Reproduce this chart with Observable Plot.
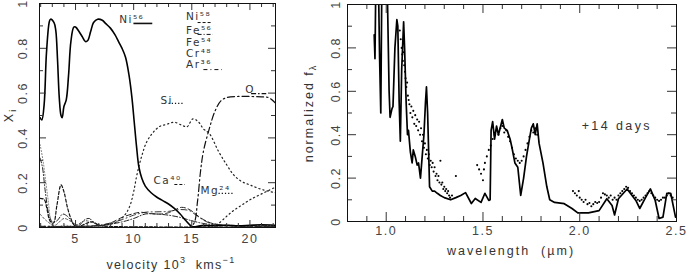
<!DOCTYPE html>
<html><head><meta charset="utf-8">
<script src="https://cdn.jsdelivr.net/npm/d3@7"></script>
<script src="https://cdn.jsdelivr.net/npm/@observablehq/plot@0.6"></script>
<style>
body{margin:0;background:#fff;}
#wrap{position:relative;width:687px;height:273px;overflow:hidden;font-family:"Liberation Sans",Arial,sans-serif;color:#333;}
#wrap svg{position:absolute;top:0;}
.lab{position:absolute;font-size:12.5px;white-space:nowrap;letter-spacing:2px;line-height:1;}
.lab sup{font-size:9px;vertical-align:6px;line-height:0;}
.lab sub{font-size:9px;vertical-align:-3px;line-height:0;}
.rot{transform-origin:center center;transform:translate(-50%,-50%) rotate(-90deg);}
</style></head><body><div id="wrap"></div>
<script>
// ---------- Left panel: abundances X_i vs velocity (10^3 km/s) ----------
const ni56V = [1.95,2.1,2.3,2.5,2.75,2.85,3.15,3.3,3.45,3.6,3.75,3.85,4.0,4.2,4.4,4.6,4.85,5.0,5.3,5.6,5.85,6.05,6.3,6.55,6.9,7.3,7.6,8.0,8.4,8.7,9.0,9.3,9.6,9.85,10.05,10.25,10.45,10.7,11.0,11.5,12.0,12.5,13.0,13.5,14.0,14.5,15.0,15.5,16,17,18,19,20,21,22.2];
const ni56X = [0.49,0.48,0.55,0.78,0.92,0.93,0.915,0.88,0.75,0.58,0.50,0.49,0.54,0.57,0.68,0.83,0.895,0.895,0.875,0.85,0.83,0.835,0.875,0.915,0.93,0.925,0.91,0.89,0.86,0.83,0.80,0.76,0.68,0.58,0.47,0.36,0.27,0.22,0.185,0.155,0.135,0.12,0.105,0.085,0.06,0.03,0.005,0.005,0.01,0.008,0.01,0.008,0.01,0.012,0.01];
const ni58V = [1.95,2.3,2.55,2.8,3.1,3.4,3.75,4.0,4.3,4.6,4.9,5.3,6.0,6.5,7.0,8.0,10,15,22.2];
const ni58X = [0.13,0.125,0.08,0.03,0.02,0.10,0.19,0.16,0.09,0.04,0.01,0.005,0.02,0.025,0.01,0.005,0.003,0.002,0.002];
const fe56V = [1.95,2.15,2.4,2.7,3.0,3.4,3.9,4.3,4.8,5.3,5.8,6.2,6.6,7.2,8,9,10,11,12,13,14,15,16,17,18,20,22.2];
const fe56X = [0.31,0.27,0.16,0.06,0.025,0.03,0.06,0.05,0.02,0.01,0.035,0.04,0.02,0.01,0.015,0.025,0.04,0.06,0.06,0.055,0.045,0.03,0.018,0.012,0.01,0.008,0.008];
const fe54V = [1.95,2.2,2.45,2.65,2.85,3.1,3.5,4,5,6,8,12,22.2];
const fe54X = [0.37,0.30,0.20,0.12,0.04,0.01,0.005,0.01,0.005,0.005,0.003,0.002,0.002];
const cr48V = [1.95,2.5,3.2,4.0,4.5,5.0,5.8,6.6,7.5,22.2];
const cr48X = [0.06,0.03,0.01,0.04,0.03,0.01,0.03,0.02,0.005,0.002];
const ar36V = [1.95,5,7,8,9,10,11,12,13,14,14.8,15.5,16.3,17,18,20,22.2];
const ar36X = [0.005,0.005,0.01,0.02,0.035,0.055,0.068,0.07,0.072,0.08,0.075,0.05,0.025,0.015,0.01,0.006,0.005];
const ca40V = [1.95,6,7,8,9,10,10.6,11.5,12.3,13,13.6,14.1,14.6,15.1,15.7,16.4,17,18,20,22.2];
const ca40X = [0.005,0.005,0.008,0.02,0.045,0.062,0.068,0.062,0.06,0.066,0.08,0.09,0.085,0.07,0.045,0.025,0.015,0.008,0.005,0.005];
const siV = [1.95,6,7,8,8.7,9.3,9.7,10.0,10.3,10.7,11.1,11.6,12.2,12.8,13.5,14.2,14.6,15.1,15.6,16.0,16.5,17.3,18.0,18.6,19.3,20.0,21.0,22.2];
const siX = [0.005,0.005,0.008,0.015,0.03,0.06,0.10,0.16,0.24,0.32,0.38,0.42,0.45,0.46,0.47,0.455,0.45,0.485,0.47,0.44,0.42,0.34,0.28,0.235,0.205,0.19,0.17,0.155];
const oV = [1.95,14.8,15.2,15.5,15.75,16.0,16.5,17.0,17.5,18.0,19.0,20,21,21.6,22.2];
const oX = [0,0,0.02,0.12,0.25,0.34,0.44,0.52,0.565,0.58,0.585,0.585,0.583,0.58,0.555];
const mg24V = [1.95,16.5,17.2,18,18.6,19.3,20.05,21,22.2];
const mg24X = [0,0.005,0.015,0.05,0.076,0.10,0.125,0.15,0.18];

const leftXTicks = [5,10,15,20];
const leftYTicks = [0,0.2,0.4,0.6,0.8,1];

// ---------- Right panel: spectrum, normalized f_lambda vs wavelength (micron) ----------
const modelLam = [0.938,0.942,0.947,0.958,0.966,0.972,0.978,0.995,1.005,1.015,1.020,1.030,1.035,1.045,1.055,1.060,1.067,1.073,1.080,1.090,1.095,1.103,1.110,1.115,1.125,1.134,1.140,1.150,1.160,1.167,1.177,1.186,1.195,1.203,1.208,1.214,1.220,1.224,1.238,1.250,1.264,1.280,1.300,1.333,1.360,1.385,1.410,1.440,1.460,1.490,1.510,1.530,1.537,1.542,1.550,1.560,1.570,1.580,1.600,1.610,1.625,1.640,1.650,1.665,1.680,1.695,1.710,1.725,1.740,1.750,1.760,1.770,1.780,1.790,1.810,1.830,1.845,1.870,1.920,1.960,1.990,2.045,2.100,2.140,2.167,2.180,2.200,2.245,2.290,2.310,2.340,2.365,2.390,2.410,2.430,2.450,2.470,2.495];
const modelFlux = [0.86,0.75,1.15,1.2,0.75,0.50,1.15,1.2,1.1,0.60,0.48,0.52,0.53,0.80,0.93,0.90,0.55,0.37,0.70,0.92,0.80,0.55,0.40,0.42,0.32,0.27,0.33,0.30,0.26,0.27,0.20,0.30,0.40,0.55,0.62,0.50,0.30,0.16,0.14,0.14,0.13,0.12,0.11,0.10,0.11,0.12,0.133,0.083,0.106,0.088,0.13,0.097,0.10,0.42,0.46,0.38,0.44,0.40,0.47,0.43,0.42,0.38,0.34,0.27,0.25,0.12,0.20,0.30,0.38,0.43,0.45,0.40,0.45,0.36,0.27,0.16,0.10,0.088,0.082,0.06,0.04,0.04,0.05,0.105,0.074,0.03,0.105,0.15,0.097,0.06,0.11,0.15,0.097,0.014,0.02,0.13,0.13,0.02];
const obsLam = [1.070,1.075,1.080,1.083,1.086,1.090,1.093,1.097,1.100,1.104,1.108,1.112,1.116,1.120,1.125,1.130,1.135,1.140,1.145,1.150,1.155,1.160,1.165,1.170,1.175,1.180,1.185,1.190,1.195,1.200,1.205,1.210,1.215,1.220,1.225,1.230,1.235,1.240,1.245,1.250,1.255,1.260,1.265,1.270,1.275,1.280,1.285,1.290,1.295,1.300,1.305,1.310,1.315,1.320,1.325,1.330,1.340,1.360,
  1.470,1.480,1.490,1.500,1.505,1.510,1.520,1.530,1.540,1.550,1.560,1.570,1.580,1.590,1.600,1.610,1.620,1.630,1.640,1.650,1.660,1.670,1.680,1.690,1.700,1.710,1.720,1.730,1.740,1.750,1.760,1.770,1.780,
  1.965,1.975,1.985,1.995,2.000,2.010,2.020,2.030,2.040,2.050,2.060,2.070,2.080,2.090,2.100,2.110,2.120,2.130,2.140,2.150,2.160,2.170,2.180,2.190,2.200,2.210,2.220,2.230,2.240,2.250,2.260,2.270,2.280,2.290,2.300,2.310,2.320,2.330,2.340,2.350,2.360,2.370,2.380,2.390,2.400,2.410,2.420,2.430,2.440,2.450,2.460,2.470,2.480];
const obsFlux = [0.88,0.84,0.80,0.77,0.74,0.78,0.72,0.69,0.66,0.62,0.64,0.58,0.56,0.54,0.50,0.53,0.48,0.51,0.45,0.49,0.44,0.47,0.42,0.46,0.40,0.43,0.37,0.40,0.34,0.36,0.31,0.33,0.29,0.31,0.26,0.28,0.25,0.27,0.23,0.25,0.21,0.22,0.19,0.21,0.18,0.28,0.17,0.18,0.15,0.16,0.14,0.15,0.13,0.14,0.12,0.11,0.12,0.21,
  0.26,0.24,0.22,0.19,0.24,0.27,0.30,0.33,0.35,0.38,0.40,0.42,0.40,0.43,0.44,0.41,0.42,0.39,0.37,0.34,0.31,0.29,0.28,0.27,0.28,0.30,0.33,0.36,0.39,0.42,0.41,0.43,0.40,
  0.14,0.13,0.12,0.14,0.11,0.10,0.09,0.10,0.08,0.085,0.07,0.08,0.09,0.085,0.09,0.11,0.13,0.125,0.12,0.11,0.12,0.10,0.11,0.10,0.12,0.13,0.14,0.15,0.16,0.155,0.14,0.13,0.12,0.11,0.10,0.095,0.10,0.11,0.12,0.13,0.14,0.13,0.12,0.11,0.10,0.095,0.10,0.11,0.11,0.12,0.13,0.12,0.11];

const rightXTicks = [1,1.5,2,2.5];
const rightYTicks = [0,0.2,0.4,0.6,0.8,1];

// ---------- helpers ----------
const rows = (xs, ys) => xs.map((x, i) => ({x, y: ys[i]}));
const fmt = d => d === 0 ? "0" : d === 1 ? "1" : String(d);
const wrap = document.getElementById("wrap");
const baseStyle = {fontFamily: "'Liberation Sans', Arial, sans-serif", fontSize: "12px", letterSpacing: "1.5px", color: "#444", background: "transparent", overflow: "visible"};

function frameTicks(fw, fh, xMinor, xMajor, yMinor, yMajor, lMin, lMaj) {
  return [
    Plot.ruleX(xMinor, {x: d => d, insetTop: fh - lMin, stroke: "#333"}),
    Plot.ruleX(xMinor, {x: d => d, insetBottom: fh - lMin, stroke: "#333"}),
    Plot.ruleX(xMajor, {x: d => d, insetTop: fh - lMaj, stroke: "#333"}),
    Plot.ruleX(xMajor, {x: d => d, insetBottom: fh - lMaj, stroke: "#333"}),
    Plot.ruleY(yMinor, {y: d => d, insetRight: fw - lMin, stroke: "#333"}),
    Plot.ruleY(yMinor, {y: d => d, insetLeft: fw - lMin, stroke: "#333"}),
    Plot.ruleY(yMajor, {y: d => d, insetRight: fw - lMaj, stroke: "#333"}),
    Plot.ruleY(yMajor, {y: d => d, insetLeft: fw - lMaj, stroke: "#333"})
  ];
}

// ---------- left plot ----------
const L = {w: 300, h: 273, ml: 39, mr: 25, mt: 3, mb: 46};
const Lfw = L.w - L.ml - L.mr, Lfh = L.h - L.mt - L.mb;
const series = [
  {v: fe54V, x: fe54X, dash: "1,2", w: 1, c: "#777"},
  {v: cr48V, x: cr48X, dash: "2,2", w: 1, c: "#555"},
  {v: ni58V, x: ni58X, dash: "3,2", w: 1.2, c: "#111"},
  {v: fe56V, x: fe56X, dash: "5,2,1,2", w: 1, c: "#222"},
  {v: ar36V, x: ar36X, dash: "6,3,1,3", w: 1, c: "#333"},
  {v: ca40V, x: ca40X, dash: "5,3", w: 1, c: "#222"},
  {v: siV, x: siX, dash: "1.2,3", w: 1.2, c: "#222"},
  {v: mg24V, x: mg24X, dash: "1.2,3", w: 1.2, c: "#222"},
  {v: oV, x: oX, dash: "7,3,1.5,3", w: 1.2, c: "#111"},
  {v: ni56V, x: ni56X, dash: null, w: 1.6, c: "#000"}
];
const legend = [
  {t: "Ni⁵⁶", tx: 8.75, ty: 0.93, k: [9.98, 11.6, 0.911], dash: null, w: 1.6},
  {t: "Ni⁵⁸", tx: 14.5, ty: 0.94, k: [15.5, 16.7, 0.915], dash: "3,2", w: 1},
  {t: "Fe⁵⁶", tx: 14.5, ty: 0.88, k: [15.5, 16.8, 0.862], dash: "4,2,1,2", w: 1},
  {t: "Fe⁵⁴", tx: 14.5, ty: 0.826, k: null},
  {t: "Cr⁴⁸", tx: 14.5, ty: 0.777, k: null},
  {t: "Ar³⁶", tx: 14.5, ty: 0.728, k: [16.0, 17.6, 0.705], dash: "4,3,1,3", w: 1},
  {t: "Si", tx: 12.3, ty: 0.567, k: [13.0, 14.3, 0.554], dash: "1.2,2", w: 1.2},
  {t: "O", tx: 19.6, ty: 0.616, k: [20.1, 21.4, 0.598], dash: "5,2,1.5,2", w: 1.2},
  {t: "Ca⁴⁰", tx: 11.7, ty: 0.21, k: [13.5, 14.4, 0.192], dash: "3,2", w: 1},
  {t: "Mg²⁴", tx: 15.75, ty: 0.165, k: [17.3, 18.6, 0.152], dash: "1.2,2", w: 1.2}
];

const leftMarks = [
  ...series.map(s => Plot.line(rows(s.v, s.x), {x: "x", y: "y", curve: "catmull-rom", stroke: s.c, strokeWidth: s.w, strokeDasharray: s.dash, clip: true})),
  Plot.text(legend, {x: "tx", y: "ty", text: "t", textAnchor: "start", lineAnchor: "middle", fontSize: 10.5, fontFamily: "'DejaVu Sans', sans-serif", fill: "#333"}),
  ...legend.filter(d => d.k).map(d => Plot.link([d], {x1: e => e.k[0], x2: e => e.k[1], y1: e => e.k[2], y2: e => e.k[2], stroke: "#111", strokeWidth: d.w, strokeDasharray: d.dash})),
  ...frameTicks(Lfw, Lfh, d3.range(2, 23).filter(d => d % 5), leftXTicks, [0.1,0.3,0.5,0.7,0.9], leftYTicks, 4, 7),
  Plot.axisX(leftXTicks, {tickSize: 0, tickPadding: 7, label: null, fontSize: 12.5}),
  Plot.axisY(leftYTicks, {tickSize: 0, tickRotate: -90, tickPadding: 13, tickFormat: fmt, label: null, fontSize: 12.5}),
  Plot.frame({stroke: "#111", strokeWidth: 1})
];
const left = Plot.plot({
  width: L.w, height: L.h, marginLeft: L.ml, marginRight: L.mr, marginTop: L.mt, marginBottom: L.mb,
  x: {domain: [1.9, 22.2]}, y: {domain: [0, 1]},
  style: baseStyle, marks: leftMarks
});
left.style.left = "0px";
wrap.appendChild(left);

// ---------- right plot ----------
const R = {left: 300, w: 387, h: 273, ml: 47, mr: 11, mt: 4, mb: 52};
const Rfw = R.w - R.ml - R.mr, Rfh = R.h - R.mt - R.mb;
const rightMarks = [
  Plot.line(rows(modelLam, modelFlux), {x: "x", y: "y", stroke: "#000", strokeWidth: 1.7, strokeLinejoin: "round", clip: true}),
  Plot.dot(rows(obsLam, obsFlux), {x: "x", y: "y", r: 1.05, fill: "#000", stroke: null, clip: true}),
  Plot.text(["+14 days"], {x: 2.01, y: 0.438, text: d => d, textAnchor: "start", lineAnchor: "middle", fontSize: 12.5, fill: "#333", style: {letterSpacing: "2.4px"}}),
  ...frameTicks(Rfw, Rfh, d3.range(8, 26).map(d => d / 10).filter(d => Math.round(d * 10) % 5), rightXTicks, [0.1,0.3,0.5,0.7,0.9], rightYTicks, 5, 9),
  Plot.axisX(rightXTicks, {tickSize: 0, tickPadding: 5, label: null, fontSize: 12.5}),
  Plot.axisY(rightYTicks, {tickSize: 0, tickRotate: -90, tickPadding: 8, tickFormat: fmt, label: null, fontSize: 12.5}),
  Plot.frame({stroke: "#111", strokeWidth: 1})
];
const right = Plot.plot({
  width: R.w, height: R.h, marginLeft: R.ml, marginRight: R.mr, marginTop: R.mt, marginBottom: R.mb,
  x: {domain: [0.8, 2.5]}, y: {domain: [0, 1]},
  style: baseStyle, marks: rightMarks
});
right.style.left = R.left + "px";
wrap.appendChild(right);
// wider letter spacing for the "+14 days" note
right.querySelectorAll("text").forEach(t => { if (t.textContent === "+14 days") t.setAttribute("letter-spacing", "2.4"); });

// ---------- axis titles ----------
function addLabel(html, x, y, rotate, spacing) {
  const d = document.createElement("div");
  d.className = "lab" + (rotate ? " rot" : "");
  d.innerHTML = html;
  d.style.left = x + "px";
  d.style.top = y + "px";
  if (spacing) d.style.letterSpacing = spacing;
  if (!rotate) d.style.transform = "translate(-50%,-50%)";
  wrap.appendChild(d);
}
addLabel("velocity 10<sup>3</sup>&nbsp; kms<sup>−1</sup>", 171, 265, false, "1.3px");
addLabel("wavelength&nbsp; (µm)", 511, 251, false);
addLabel("X<sub>i</sub>", 9, 115, true);
addLabel("normalized f<sub>λ</sub>", 309, 113, true);
</script>
</body></html>
